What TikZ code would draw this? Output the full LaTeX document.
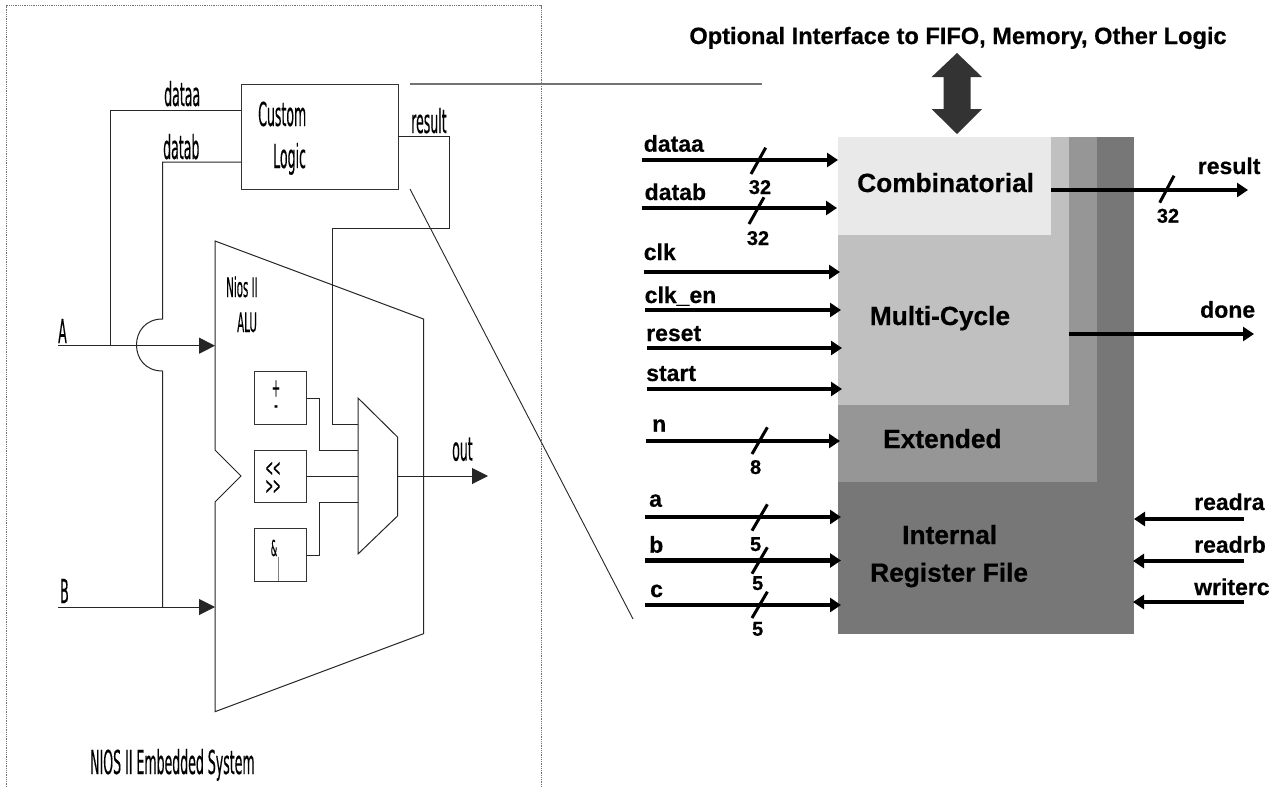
\documentclass[tikz,border=0pt]{standalone}
\usepackage{fontspec}
\usetikzlibrary{arrows.meta}
\setmainfont{Liberation Sans}[BoldFeatures={FakeBold=0.5}]
\newfontfamily\narrowfont[FakeStretch=0.38,FakeBold=0.25]{DejaVu Sans}
\definecolor{combc}{HTML}{E9E9E9}
\definecolor{multc}{HTML}{C0C0C0}
\definecolor{extc}{HTML}{969696}
\definecolor{regc}{HTML}{777777}
\definecolor{busc}{HTML}{333333}
\tikzset{
  wire/.style={line width=1pt,black!85},
  inarrow/.style={line width=1pt,black!85,-{Triangle[length=16pt,width=16pt]}},
  sysbox/.style={draw=black!80,line width=1pt,rectangle,inner sep=0pt,anchor=north west},
  layer/.style={rectangle,inner sep=0pt,anchor=north west},
  narrowlab/.style={inner sep=0pt,anchor=base west,font=\narrowfont\fontsize{33}{36}\selectfont},
  narrowsm/.style={inner sep=0pt,anchor=base west,font=\narrowfont\fontsize{27}{30}\selectfont},
  sigwire/.style={line width=4.2pt,-{Triangle[length=11pt,width=14pt,sep=0pt]}},
  slashmark/.style={line width=3pt},
  siglab/.style={inner sep=0pt,anchor=base west,font=\bfseries\fontsize{23}{26}\selectfont},
  numlab/.style={inner sep=0pt,anchor=base,font=\bfseries\fontsize{20}{24}\selectfont},
  blocklab/.style={inner sep=0pt,anchor=base west,font=\bfseries\fontsize{26.3}{30}\selectfont},
}
\begin{document}
\begin{tikzpicture}[x=1pt,y=-1pt]
\useasboundingbox (0,0) rectangle (1282,787);
\fill[white] (0,0) rectangle (1282,787);
% system frame
\draw[densely dotted,line width=0.8pt,black!55] (6,787) -- (6,5.5) -- (541,5.5) -- (541,787);
% left boxes
\node[sysbox,minimum width=156.5pt,minimum height=105pt] (custom) at (241,84) {};
\node[sysbox,minimum width=52.5pt,minimum height=53pt] (addbox) at (253.5,371) {};
\node[sysbox,minimum width=52.5pt,minimum height=52pt] (shiftbox) at (253.5,450) {};
\node[sysbox,minimum width=52.5pt,minimum height=53pt] (andbox) at (253.5,528) {};
% ALU and mux outlines
\coordinate (alu1) at (215,241); \coordinate (alu2) at (423.5,319); \coordinate (alu3) at (423.5,633.7);
\coordinate (alu4) at (215,711.7); \coordinate (alu5) at (215,502); \coordinate (alu6) at (241,476); \coordinate (alu7) at (215,450);
\draw[wire,line join=miter] (alu1) -- (alu2) -- (alu3) -- (alu4) -- (alu5) -- (alu6) -- (alu7) -- cycle;
\coordinate (mux1) at (358,398); \coordinate (mux2) at (397.5,437); \coordinate (mux3) at (397.5,516); \coordinate (mux4) at (358,554);
\draw[wire] (mux1) -- (mux2) -- (mux3) -- (mux4) -- cycle;
% left connectors
\coordinate (aL) at (58,345.7); \coordinate (aR) at (215,345.7); \coordinate (aT) at (110,345.7);
\coordinate (bL) at (58,607); \coordinate (bR) at (215,607); \coordinate (bT) at (162.5,607);
\coordinate (dai) at (241,110); \coordinate (dbi) at (241,162);
\coordinate (hopT) at (162.5,319); \coordinate (hopB) at (162.5,371);
\draw[inarrow] (aL) -- (aR);
\draw[inarrow] (bL) -- (bR);
\draw[wire] (aT) |- (dai);
\draw[wire] (dbi) -| (hopT) .. controls (145,319) and (136.5,332) .. (136.5,345) .. controls (136.5,358) and (145,371) .. (hopB) -- (bT);
\coordinate (resO) at (397.5,136); \coordinate (resA) at (449.5,136); \coordinate (resB) at (449.5,228); \coordinate (resC) at (332,228); \coordinate (resD) at (332,424); \coordinate (resE) at (358,424);
\draw[wire] (resO) -- (resA) -- (resB) -- (resC) -- (resD) -- (resE);
\coordinate (addO) at (306,398); \coordinate (addA) at (319,398); \coordinate (addB) at (319,450); \coordinate (addC) at (358,450);
\draw[wire] (addO) -- (addA) -- (addB) -- (addC);
\coordinate (shO) at (306,476); \coordinate (shC) at (358,476);
\draw[wire] (shO) -- (shC);
\coordinate (anO) at (306,555); \coordinate (anA) at (319,555); \coordinate (anB) at (319,502); \coordinate (anC) at (358,502);
\draw[wire] (anO) -- (anA) -- (anB) -- (anC);
\coordinate (outO) at (397.5,476); \coordinate (outE) at (488,476);
\draw[inarrow] (outO) -- (outE);
\coordinate (andT) at (278,557); \coordinate (andB) at (278,581);
\draw[line width=0.8pt,black!50] (andT) -- (andB);
% zoom lines
\coordinate (z1a) at (410,84); \coordinate (z1b) at (762,84);
\coordinate (z2a) at (410,189); \coordinate (z2b) at (633,619);
\draw[line width=1.1pt,black!55] (z1a) -- (z1b);
\draw[line width=0.9pt,black!85] (z2a) -- (z2b);
% left labels
\node[narrowlab] (tdataa) at (164,106) {dataa};
\node[narrowlab] (tdatab) at (163,159) {datab};
\node[narrowlab] (tcustom) at (258,126) {Custom};
\node[narrowlab] (tlogic) at (273,168) {Logic};
\node[narrowlab] (tresult) at (411,133) {result};
\node[narrowsm] (tnios) at (226,297) {Nios II};
\node[narrowsm] (talu) at (237,332) {ALU};
\node[narrowlab] (tA) at (58,343) {A};
\node[narrowlab] (tB) at (60,603) {B};
\node[narrowlab] (tout) at (452,460.7) {out};
\node[narrowlab] (tsys) at (90,774) {NIOS II Embedded System};
\node[inner sep=0pt,align=center,font=\narrowfont\fontsize{26}{17}\selectfont] (tplusminus) at (276,397) {+\\-};
\node[inner sep=0pt,align=center,font=\narrowfont\fontsize{24}{18}\selectfont] (tshift) at (273,478) {<<\\>>};
\node[inner sep=0pt,font=\narrowfont\fontsize{22}{24}\selectfont] (tamp) at (274,548) {\&};
% right block layers
\node[layer,fill=regc,minimum width=296pt,minimum height=496.7pt] (regfile) at (838,137) {};
\node[layer,fill=extc,minimum width=259pt,minimum height=344.7pt] (extended) at (838,137) {};
\node[layer,fill=multc,minimum width=231pt,minimum height=268pt] (multi) at (838,137) {};
\node[layer,fill=combc,minimum width=213pt,minimum height=98pt] (comb) at (838,137) {};
% bus arrow
\coordinate (busT) at (957,53); \coordinate (busB) at (957,134);
\fill[busc] (busT) -- (982,77) -- (970.5,77) -- (970.5,109) -- (982,109) -- (busB) -- (931.6,109) -- (943.5,109) -- (943.5,77) -- (931.6,77) -- cycle;
% signal arrows
\foreach \nm/\xa/\xb/\yy in {dataa/642/838/160,datab/641.5/837/208,clk/644/840/272,clken/645/841/310,reset/646.5/842/348,start/646.5/842/389,n/646/840/441,a/645/841/517,b/645/841/560.5,c/645/841/605,readra/1244/1134/519,readrb/1243.5/1133/561,writerc/1243.5/1133/602,result/1051/1248/190,done/1069/1254/334}{
  \coordinate (\nm S) at (\xa,\yy);
  \coordinate (\nm E) at (\xb,\yy);
  \draw[sigwire] (\nm S) -- (\nm E);
}
% bus-width slashes
\foreach \nm/\xa/\ya/\xb/\yb in {dataa/765.7/147.7/751/174,datab/764/197.3/749/224,result/1174/175.7/1159.7/202.7,n/767.4/427.3/752/454,a/767.4/504.3/752/530.7,b/767.4/547.3/752/573.7,c/767.4/591.7/752/618}{
  \coordinate (\nm P) at (\xa,\ya);
  \coordinate (\nm Q) at (\xb,\yb);
  \draw[slashmark] (\nm P) -- (\nm Q);
}
% right labels
\node[inner sep=0pt,anchor=base,font=\bfseries\fontsize{23.6}{26}\selectfont] (ttitle) at (958,44) {Optional Interface to FIFO, Memory, Other Logic};
\node[siglab] (sdataa) at (643.6,151.7) {dataa};
\node[siglab] (sdatab) at (644.5,200) {datab};
\node[siglab] (sclk) at (643.6,260) {clk};
\node[siglab] (sclken) at (644.5,303) {clk\_en};
\node[siglab] (sreset) at (646,341) {reset};
\node[siglab] (sstart) at (646,381) {start};
\node[siglab] (sn) at (652,431.7) {n};
\node[siglab] (sa) at (649,506.7) {a};
\node[siglab] (sb) at (649,552.7) {b};
\node[siglab] (sc) at (650,597) {c};
\node[siglab] (sreadra) at (1194,510) {readra};
\node[siglab] (sreadrb) at (1194,552.7) {readrb};
\node[siglab] (swriterc) at (1194,595) {writerc};
\node[siglab] (sresult) at (1197.6,174) {result};
\node[siglab] (sdone) at (1200,317.7) {done};
\node[numlab] (n1) at (760,194) {32};
\node[numlab] (n2) at (758,245) {32};
\node[numlab] (n3) at (1168,222.7) {32};
\node[numlab] (n4) at (755.6,474) {8};
\node[numlab] (n5) at (755.6,551) {5};
\node[numlab] (n6) at (757.7,590) {5};
\node[numlab] (n7) at (757.7,635.7) {5};
\node[blocklab] (lcomb) at (857,192) {Combinatorial};
\node[blocklab] (lmulti) at (869.6,325) {Multi-Cycle};
\node[blocklab] (lext) at (883,448) {Extended};
\node[blocklab] (lint) at (902,544) {Internal};
\node[blocklab] (lreg) at (870,581.7) {Register File};
\end{tikzpicture}
\end{document}
